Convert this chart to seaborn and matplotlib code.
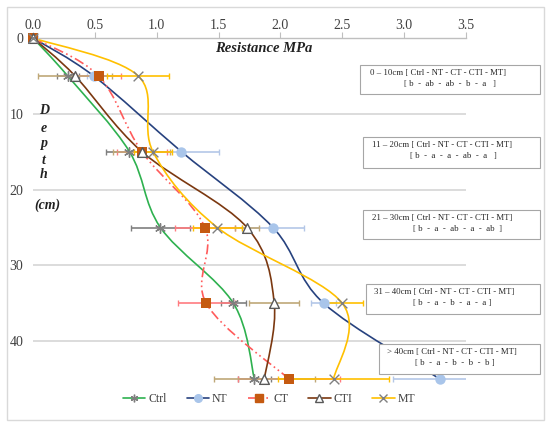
import numpy as np
import pandas as pd
import matplotlib
matplotlib.use("Agg")
import matplotlib.pyplot as plt
import seaborn as sns
from matplotlib.path import Path
from matplotlib.patches import PathPatch, Rectangle
from matplotlib.lines import Line2D

# depth (cm) and mean resistance (MPa) per treatment
depth = [0, 5, 15, 25, 35, 45]
ctrl = [0.0, 0.28, 0.78, 1.03, 1.62, 1.79]
nt = [0.0, 0.49, 1.20, 1.94, 2.35, 3.29]
ct = [0.0, 0.53, 0.88, 1.39, 1.40, 2.07]
cti = [0.0, 0.34, 0.88, 1.73, 1.95, 1.87]
mt = [0.0, 0.85, 0.97, 1.49, 2.50, 2.43]

# horizontal error bars
ctrl_err = [0, 0.09, 0.19, 0.24, 0.10, 0.13]
nt_err = [0, 0.05, 0.30, 0.25, 0.10, 0.38]
ct_err = [0, 0.18, 0.20, 0.24, 0.23, 0.41]
cti_err = [0, 0.30, 0.23, 0.10, 0.20, 0.41]
mt_err = [0, 0.25, 0.15, 0.20, 0.17, 0.45]

names = ["Ctrl", "NT", "CT", "CTI", "MT"]
layer_text = [
    ("0 \u2013 10cm [ Ctrl - NT - CT - CTI - MT]", "[ b  -  ab  -  ab  -  b  -  a   ]"),
    ("11 \u2013 20cm [ Ctrl - NT - CT - CTI - MT]", "[ b  -  a  -  a  -  ab  -  a   ]"),
    ("21 \u2013 30cm [ Ctrl - NT - CT - CTI - MT]", "[ b  -  a  -  ab  -  a  -  ab  ]"),
    ("31 \u2013 40cm [ Ctrl - NT - CT - CTI - MT]", "[ b  -  a  -  b  -  a  -  a ]"),
    ("> 40cm [ Ctrl - NT - CT - CTI - MT]", "[ b  -  a  -  b  -  b  -  b ]"),
]

sns.set_theme(style="white")
plt.rcParams['font.family'] = ['Liberation Serif', 'DejaVu Serif']

W, H = 550, 428


def fx(x):
    return x / W


def fy(y):
    return 1 - y / H


def smooth_path(xs, ys):
    # bezier through the points (like Excel's smoothed line)
    pts = np.column_stack([xs, ys]).astype(float)
    n = len(pts)
    verts = [pts[0]]
    codes = [Path.MOVETO]
    for i in range(n - 1):
        p0 = pts[max(i - 1, 0)]
        p1 = pts[i]
        p2 = pts[i + 1]
        p3 = pts[min(i + 2, n - 1)]
        verts += [p1 + (p2 - p0) / 6, p2 - (p3 - p1) / 6, p2]
        codes += [Path.CURVE4] * 3
    return Path(verts, codes)


fig = plt.figure(figsize=(5.5, 4.28), dpi=100)
fig.add_artist(Rectangle((fx(7), fy(420)), fx(537), 413 / H, transform=fig.transFigure,
                         fill=False, edgecolor='#d9d9d9', lw=1.0, zorder=0))
ax = fig.add_axes([fx(33), fy(392), fx(466 - 33), (392 - 38) / H])

styles = {
    "Ctrl": dict(vals=ctrl, err=ctrl_err, line='#2eb14f', ls='-', ecol='#7f7f7f',
                 marker=(6, 2, 0), mfc='#7f7f7f', mec='#7f7f7f', ms=7),
    "NT": dict(vals=nt, err=nt_err, line='#27427f', ls='-', ecol='#b4c7e7',
               marker='o', mfc='#a9c5ea', mec='#a9c5ea', ms=7.5),
    "CT": dict(vals=ct, err=ct_err, line='#ff5b5b', ls=(0, (6, 2, 1, 2, 1, 2)), ecol='#ff7c80',
               marker='s', mfc='#c55a11', mec='#c55a11', ms=6.5),
    "CTI": dict(vals=cti, err=cti_err, line='#7b3810', ls='-', ecol='#bfa878',
                marker='^', mfc='white', mec='#595959', ms=7),
    "MT": dict(vals=mt, err=mt_err, line='#ffc000', ls='-', ecol='#ffc000',
               marker='x', mfc='#808080', mec='#808080', ms=7),
}

rows = []
for nm in names:
    for d, v, e in zip(depth, styles[nm]["vals"], styles[nm]["err"]):
        rows.append(dict(treatment=nm, depth=d, resistance=v, err=e))
df = pd.DataFrame(rows)

for nm in names:
    s = styles[nm]
    sub = df[df.treatment == nm]
    sub_e = sub[sub.err > 0]
    ax.errorbar(sub_e.resistance, sub_e.depth, xerr=sub_e.err, fmt='none',
                ecolor=s['ecol'], elinewidth=1.2, capsize=2.5, capthick=1.0, zorder=2)

for nm in names:
    s = styles[nm]
    sub = df[df.treatment == nm]
    ax.add_patch(PathPatch(smooth_path(sub.resistance, sub.depth), fill=False,
                           edgecolor=s['line'], lw=1.2, linestyle=s['ls'], zorder=3))

for nm in names:
    s = styles[nm]
    sub = df[df.treatment == nm]
    lw = 1.0 if s['marker'] in ('x', '^') or isinstance(s['marker'], tuple) else 0
    sns.scatterplot(data=sub, x='resistance', y='depth', ax=ax, marker=s['marker'],
                    s=s['ms'] ** 2, color=s['mfc'], edgecolor=s['mec'], linewidth=lw,
                    zorder=4, clip_on=False, legend=False)

ax.set_xlim(0, 3.5)
ax.set_ylim(46.7, 0)
ax.xaxis.tick_top()
ax.set_xticks(np.arange(0, 3.51, 0.5))
ax.set_xticklabels([f"{v:.1f}" for v in np.arange(0, 3.51, 0.5)])
ax.set_yticks([0, 10, 20, 30, 40])
ax.tick_params(axis='x', which='both', direction='out', length=4, width=0.8,
               color='#bfbfbf', pad=0.5, labelsize=10, labelcolor='#404040', top=True, bottom=False)
ax.tick_params(axis='y', length=0, pad=7, labelsize=10, labelcolor='#404040')
ax.set_xlabel('')
ax.set_ylabel('')
for side in ['left', 'right', 'bottom']:
    ax.spines[side].set_visible(False)
ax.spines['top'].set_color('#bfbfbf')
ax.spines['top'].set_linewidth(1.0)
for d in [10, 20, 30, 40]:
    ax.axhline(d, color='#d9d9d9', lw=1.3, zorder=1)
ax.set_facecolor('white')

fig.text(fx(264), fy(49), 'Resistance MPa', ha='center', va='center',
         fontsize=10.5, fontweight='bold', fontstyle='italic', color='#222222')
for ch, yy in zip("Depth", [111, 128, 144, 160, 175]):
    fig.text(fx(44), fy(yy), ch, ha='center', va='center', fontsize=10,
             fontweight='bold', fontstyle='italic', color='#222222')
fig.text(fx(47), fy(205), '(cm)', ha='center', va='center', fontsize=10,
         fontweight='bold', fontstyle='italic', color='#222222')

boxes = [(360, 65, 94, 370, 404), (363, 137, 168, 372, 410), (363, 210, 239, 372, 413),
         (366, 284, 314, 374, 413), (379, 344, 374, 387, 415)]
for (x0, y0, y1, tx1, tx2), (t1, t2) in zip(boxes, layer_text):
    fig.add_artist(Rectangle((fx(x0), fy(y1)), fx(540 - x0), (y1 - y0) / H,
                             transform=fig.transFigure, facecolor='white',
                             edgecolor='#a6a6a6', lw=0.8, zorder=5))
    fig.text(fx(tx1), fy(y0 + 8), t1, ha='left', va='center', fontsize=6.3, color='#262626', zorder=6)
    fig.text(fx(tx2), fy(y0 + 19), t2, ha='left', va='center', fontsize=6.3, color='#262626', zorder=6)

handles = []
for nm in names:
    s = styles[nm]
    handles.append(Line2D([0], [0], color=s['line'], lw=1.2, linestyle=s['ls'], marker=s['marker'],
                          markersize=5.5, markerfacecolor=s['mfc'], markeredgecolor=s['mec'],
                          markeredgewidth=1.0, label=nm))
fig.legend(handles=handles, loc='center', bbox_to_anchor=(fx(269), fy(399)), ncol=5,
           frameon=False, fontsize=8.5, handlelength=1.9, columnspacing=1.7, handletextpad=0.25,
           labelcolor='#404040')

fig.savefig('out.png', dpi=100)
